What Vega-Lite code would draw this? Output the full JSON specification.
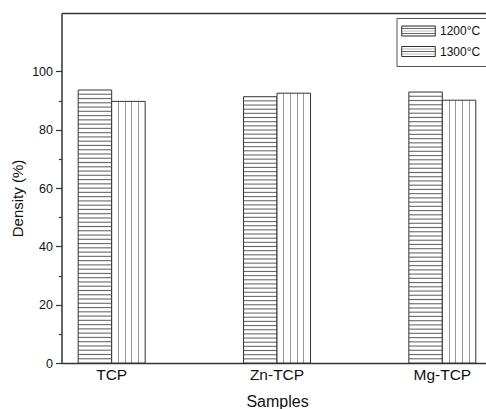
{
  "$schema": "https://vega.github.io/schema/vega-lite/v6.json",
  "autosize": "none",
  "width": 424.5,
  "height": 350,
  "padding": {"left": 61.5, "top": 13, "right": 0, "bottom": 46},
  "background": "white",
  "config": {"view": {"stroke": null}, "font": "Liberation Sans"},
  "data": {"values": [
    {"Sample": "TCP", "T": "1200°C", "Density": 93.6},
    {"Sample": "TCP", "T": "1300°C", "Density": 89.7},
    {"Sample": "Zn-TCP", "T": "1200°C", "Density": 91.3},
    {"Sample": "Zn-TCP", "T": "1300°C", "Density": 92.5},
    {"Sample": "Mg-TCP", "T": "1200°C", "Density": 92.9},
    {"Sample": "Mg-TCP", "T": "1300°C", "Density": 90.1}
  ]},
  "encoding": {
    "x": {
      "field": "Sample", "type": "nominal", "sort": ["TCP", "Zn-TCP", "Mg-TCP"],
      "scale": {"range": [0, 431], "paddingInner": 0.595, "paddingOuter": 0.101},
      "axis": {"ticks": false, "domainColor": "#333", "domainWidth": 1.5, "labelAngle": 0,
        "labelFontSize": 15.5, "labelColor": "#111", "labelPadding": 4,
        "title": "Samples", "titleFontSize": 16, "titleFontWeight": "normal", "titleColor": "#111", "titlePadding": 11}
    },
    "xOffset": {"field": "T", "type": "nominal", "sort": ["1200°C", "1300°C"], "scale": {"paddingInner": 0, "paddingOuter": 0}},
    "y": {
      "field": "Density", "type": "quantitative",
      "scale": {"domain": [0, 120], "nice": false},
      "axis": {
        "values": [0, 10, 20, 30, 40, 50, 60, 70, 80, 90, 100, 110, 120],
        "labelExpr": "datum.value % 20 === 0 && datum.value <= 100 ? datum.label : ''",
        "tickSize": {"condition": {"test": "datum.value % 20 === 0", "value": 6}, "value": 3},
        "tickOpacity": {"condition": {"test": "datum.value > 100", "value": 0}, "value": 1},
        "tickColor": "#333", "tickWidth": 1.2,
        "grid": true, "gridColor": "#333", "gridWidth": 1.5,
        "gridOpacity": {"condition": {"test": "datum.value === 120", "value": 1}, "value": 0},
        "domainColor": "#333", "domainWidth": 1.5,
        "labelFontSize": 12.5, "labelColor": "#111", "labelPadding": 3,
        "title": "Density (%)", "titleFontSize": 15, "titleFontWeight": "normal", "titleColor": "#111",
        "titlePadding": 6, "titleY": 185
      }
    },
    "stroke": {
      "field": "T", "type": "nominal",
      "scale": {"range": ["#333", "#333"]},
      "legend": {
        "orient": "none", "legendX": 335, "legendY": 5, "title": null,
        "symbolType": "M-1.56,-1H5.16V1H-1.56Z", "symbolSize": 100,
        "symbolStrokeWidth": 1,
        "labelFontSize": 12, "labelColor": "#111", "labelOffset": 24.5,
        "padding": 7, "rowPadding": 6.5, "strokeColor": "#555", "fillColor": "white",
        "encode": {"symbols": {"update": {"fill": {"signal": "datum.value === '1200°C' ? {gradient: 'linear', x1: 0, y1: 0, x2: 0, y2: 1, stops: [{offset: 0, color: '#fff'}, {offset: 0.22, color: '#fff'}, {offset: 0.22, color: '#999'}, {offset: 0.34, color: '#999'}, {offset: 0.34, color: '#fff'}, {offset: 0.66, color: '#fff'}, {offset: 0.66, color: '#999'}, {offset: 0.78, color: '#999'}, {offset: 0.78, color: '#fff'}, {offset: 1, color: '#fff'}]} : {gradient: 'linear', x1: 0, y1: 0, x2: 1, y2: 0, stops: [{offset: 0, color: '#fff'}, {offset: 0.185, color: '#fff'}, {offset: 0.185, color: '#999'}, {offset: 0.215, color: '#999'}, {offset: 0.215, color: '#fff'}, {offset: 0.385, color: '#fff'}, {offset: 0.385, color: '#999'}, {offset: 0.415, color: '#999'}, {offset: 0.415, color: '#fff'}, {offset: 0.585, color: '#fff'}, {offset: 0.585, color: '#999'}, {offset: 0.615, color: '#999'}, {offset: 0.615, color: '#fff'}, {offset: 0.785, color: '#fff'}, {offset: 0.785, color: '#999'}, {offset: 0.815, color: '#999'}, {offset: 0.815, color: '#fff'}, {offset: 1, color: '#fff'}]}"}}}}
      }
    }
  },
  "layer": [
    {
      "transform": [{"filter": "datum.T === '1200°C'"}],
      "mark": {"type": "bar", "strokeWidth": 1, "fill": {"gradient": "linear", "x1": 0, "y1": 0, "x2": 0, "y2": 1, "stops": [
          {"offset":0,"color":"#fff"},
          {"offset":0.0116,"color":"#fff"},{"offset":0.0156,"color":"#666"},{"offset":0.0196,"color":"#fff"},
          {"offset":0.0273,"color":"#fff"},{"offset":0.0313,"color":"#666"},{"offset":0.0353,"color":"#fff"},
          {"offset":0.0429,"color":"#fff"},{"offset":0.0469,"color":"#666"},{"offset":0.0509,"color":"#fff"},
          {"offset":0.0585,"color":"#fff"},{"offset":0.0625,"color":"#666"},{"offset":0.0665,"color":"#fff"},
          {"offset":0.0741,"color":"#fff"},{"offset":0.0781,"color":"#666"},{"offset":0.0821,"color":"#fff"},
          {"offset":0.0898,"color":"#fff"},{"offset":0.0938,"color":"#666"},{"offset":0.0978,"color":"#fff"},
          {"offset":0.1054,"color":"#fff"},{"offset":0.1094,"color":"#666"},{"offset":0.1134,"color":"#fff"},
          {"offset":0.121,"color":"#fff"},{"offset":0.125,"color":"#666"},{"offset":0.129,"color":"#fff"},
          {"offset":0.1366,"color":"#fff"},{"offset":0.1406,"color":"#666"},{"offset":0.1446,"color":"#fff"},
          {"offset":0.1523,"color":"#fff"},{"offset":0.1563,"color":"#666"},{"offset":0.1603,"color":"#fff"},
          {"offset":0.1679,"color":"#fff"},{"offset":0.1719,"color":"#666"},{"offset":0.1759,"color":"#fff"},
          {"offset":0.1835,"color":"#fff"},{"offset":0.1875,"color":"#666"},{"offset":0.1915,"color":"#fff"},
          {"offset":0.1991,"color":"#fff"},{"offset":0.2031,"color":"#666"},{"offset":0.2071,"color":"#fff"},
          {"offset":0.2148,"color":"#fff"},{"offset":0.2188,"color":"#666"},{"offset":0.2228,"color":"#fff"},
          {"offset":0.2304,"color":"#fff"},{"offset":0.2344,"color":"#666"},{"offset":0.2384,"color":"#fff"},
          {"offset":0.246,"color":"#fff"},{"offset":0.25,"color":"#666"},{"offset":0.254,"color":"#fff"},
          {"offset":0.2616,"color":"#fff"},{"offset":0.2656,"color":"#666"},{"offset":0.2696,"color":"#fff"},
          {"offset":0.2773,"color":"#fff"},{"offset":0.2813,"color":"#666"},{"offset":0.2853,"color":"#fff"},
          {"offset":0.2929,"color":"#fff"},{"offset":0.2969,"color":"#666"},{"offset":0.3009,"color":"#fff"},
          {"offset":0.3085,"color":"#fff"},{"offset":0.3125,"color":"#666"},{"offset":0.3165,"color":"#fff"},
          {"offset":0.3241,"color":"#fff"},{"offset":0.3281,"color":"#666"},{"offset":0.3321,"color":"#fff"},
          {"offset":0.3398,"color":"#fff"},{"offset":0.3438,"color":"#666"},{"offset":0.3478,"color":"#fff"},
          {"offset":0.3554,"color":"#fff"},{"offset":0.3594,"color":"#666"},{"offset":0.3634,"color":"#fff"},
          {"offset":0.371,"color":"#fff"},{"offset":0.375,"color":"#666"},{"offset":0.379,"color":"#fff"},
          {"offset":0.3866,"color":"#fff"},{"offset":0.3906,"color":"#666"},{"offset":0.3946,"color":"#fff"},
          {"offset":0.4023,"color":"#fff"},{"offset":0.4063,"color":"#666"},{"offset":0.4103,"color":"#fff"},
          {"offset":0.4179,"color":"#fff"},{"offset":0.4219,"color":"#666"},{"offset":0.4259,"color":"#fff"},
          {"offset":0.4335,"color":"#fff"},{"offset":0.4375,"color":"#666"},{"offset":0.4415,"color":"#fff"},
          {"offset":0.4491,"color":"#fff"},{"offset":0.4531,"color":"#666"},{"offset":0.4571,"color":"#fff"},
          {"offset":0.4648,"color":"#fff"},{"offset":0.4688,"color":"#666"},{"offset":0.4728,"color":"#fff"},
          {"offset":0.4804,"color":"#fff"},{"offset":0.4844,"color":"#666"},{"offset":0.4884,"color":"#fff"},
          {"offset":0.496,"color":"#fff"},{"offset":0.5,"color":"#666"},{"offset":0.504,"color":"#fff"},
          {"offset":0.5116,"color":"#fff"},{"offset":0.5156,"color":"#666"},{"offset":0.5196,"color":"#fff"},
          {"offset":0.5273,"color":"#fff"},{"offset":0.5313,"color":"#666"},{"offset":0.5353,"color":"#fff"},
          {"offset":0.5429,"color":"#fff"},{"offset":0.5469,"color":"#666"},{"offset":0.5509,"color":"#fff"},
          {"offset":0.5585,"color":"#fff"},{"offset":0.5625,"color":"#666"},{"offset":0.5665,"color":"#fff"},
          {"offset":0.5741,"color":"#fff"},{"offset":0.5781,"color":"#666"},{"offset":0.5821,"color":"#fff"},
          {"offset":0.5898,"color":"#fff"},{"offset":0.5938,"color":"#666"},{"offset":0.5978,"color":"#fff"},
          {"offset":0.6054,"color":"#fff"},{"offset":0.6094,"color":"#666"},{"offset":0.6134,"color":"#fff"},
          {"offset":0.621,"color":"#fff"},{"offset":0.625,"color":"#666"},{"offset":0.629,"color":"#fff"},
          {"offset":0.6366,"color":"#fff"},{"offset":0.6406,"color":"#666"},{"offset":0.6446,"color":"#fff"},
          {"offset":0.6523,"color":"#fff"},{"offset":0.6563,"color":"#666"},{"offset":0.6603,"color":"#fff"},
          {"offset":0.6679,"color":"#fff"},{"offset":0.6719,"color":"#666"},{"offset":0.6759,"color":"#fff"},
          {"offset":0.6835,"color":"#fff"},{"offset":0.6875,"color":"#666"},{"offset":0.6915,"color":"#fff"},
          {"offset":0.6991,"color":"#fff"},{"offset":0.7031,"color":"#666"},{"offset":0.7071,"color":"#fff"},
          {"offset":0.7148,"color":"#fff"},{"offset":0.7188,"color":"#666"},{"offset":0.7228,"color":"#fff"},
          {"offset":0.7304,"color":"#fff"},{"offset":0.7344,"color":"#666"},{"offset":0.7384,"color":"#fff"},
          {"offset":0.746,"color":"#fff"},{"offset":0.75,"color":"#666"},{"offset":0.754,"color":"#fff"},
          {"offset":0.7616,"color":"#fff"},{"offset":0.7656,"color":"#666"},{"offset":0.7696,"color":"#fff"},
          {"offset":0.7773,"color":"#fff"},{"offset":0.7813,"color":"#666"},{"offset":0.7853,"color":"#fff"},
          {"offset":0.7929,"color":"#fff"},{"offset":0.7969,"color":"#666"},{"offset":0.8009,"color":"#fff"},
          {"offset":0.8085,"color":"#fff"},{"offset":0.8125,"color":"#666"},{"offset":0.8165,"color":"#fff"},
          {"offset":0.8241,"color":"#fff"},{"offset":0.8281,"color":"#666"},{"offset":0.8321,"color":"#fff"},
          {"offset":0.8398,"color":"#fff"},{"offset":0.8438,"color":"#666"},{"offset":0.8478,"color":"#fff"},
          {"offset":0.8554,"color":"#fff"},{"offset":0.8594,"color":"#666"},{"offset":0.8634,"color":"#fff"},
          {"offset":0.871,"color":"#fff"},{"offset":0.875,"color":"#666"},{"offset":0.879,"color":"#fff"},
          {"offset":0.8866,"color":"#fff"},{"offset":0.8906,"color":"#666"},{"offset":0.8946,"color":"#fff"},
          {"offset":0.9023,"color":"#fff"},{"offset":0.9063,"color":"#666"},{"offset":0.9103,"color":"#fff"},
          {"offset":0.9179,"color":"#fff"},{"offset":0.9219,"color":"#666"},{"offset":0.9259,"color":"#fff"},
          {"offset":0.9335,"color":"#fff"},{"offset":0.9375,"color":"#666"},{"offset":0.9415,"color":"#fff"},
          {"offset":0.9491,"color":"#fff"},{"offset":0.9531,"color":"#666"},{"offset":0.9571,"color":"#fff"},
          {"offset":0.9648,"color":"#fff"},{"offset":0.9688,"color":"#666"},{"offset":0.9728,"color":"#fff"},
          {"offset":0.9804,"color":"#fff"},{"offset":0.9844,"color":"#666"},{"offset":0.9884,"color":"#fff"},
          {"offset":1,"color":"#fff"}
        ]}}
    },
    {
      "transform": [{"filter": "datum.T === '1300°C'"}],
      "mark": {"type": "bar", "strokeWidth": 1, "fill": {"gradient": "linear", "x1": 0, "y1": 0, "x2": 1, "y2": 0, "stops": [
          {"offset":0,"color":"#fff"},{"offset":0.185,"color":"#fff"},{"offset":0.185,"color":"#999"},{"offset":0.215,"color":"#999"},{"offset":0.215,"color":"#fff"},
          {"offset":0.385,"color":"#fff"},{"offset":0.385,"color":"#999"},{"offset":0.415,"color":"#999"},{"offset":0.415,"color":"#fff"},
          {"offset":0.585,"color":"#fff"},{"offset":0.585,"color":"#999"},{"offset":0.615,"color":"#999"},{"offset":0.615,"color":"#fff"},
          {"offset":0.785,"color":"#fff"},{"offset":0.785,"color":"#999"},{"offset":0.815,"color":"#999"},{"offset":0.815,"color":"#fff"},
          {"offset":1,"color":"#fff"}
        ]}}
    }
  ]
}
